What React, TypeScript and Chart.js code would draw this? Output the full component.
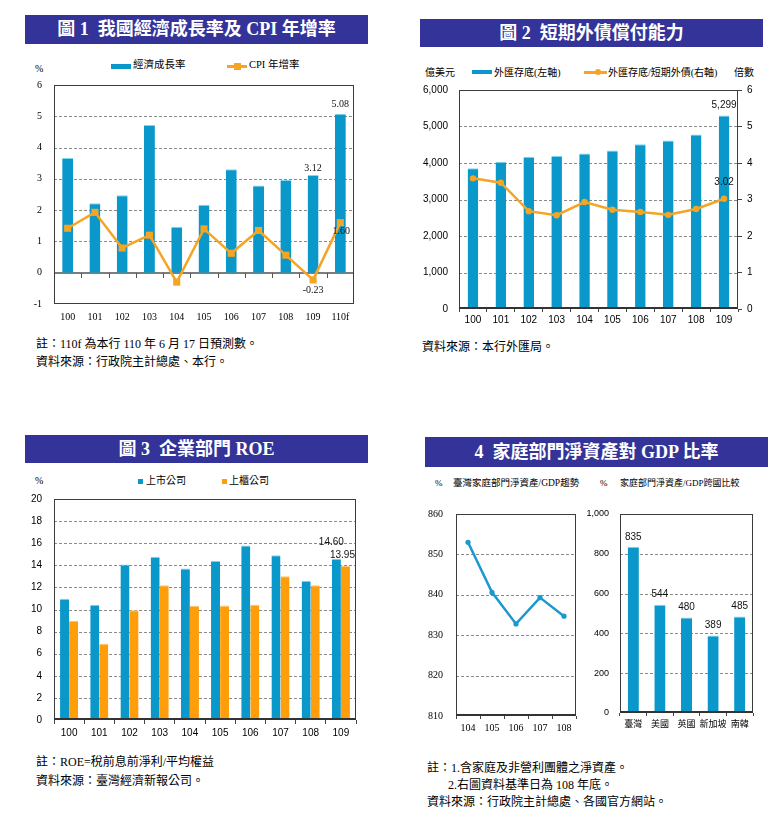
import React, { useEffect, useRef } from "react";
import { Chart, registerables } from "chart.js";

Chart.register(...registerables);

// ---------------- data ----------------
const gdpYears = ["100", "101", "102", "103", "104", "105", "106", "107", "108", "109", "110f"];
const gdpGrowth = [3.67, 2.22, 2.48, 4.72, 1.47, 2.17, 3.31, 2.79, 2.96, 3.12, 5.08];
const cpiGrowth = [1.42, 1.93, 0.79, 1.2, -0.3, 1.4, 0.62, 1.35, 0.56, -0.23, 1.6];

const fxYears = ["100", "101", "102", "103", "104", "105", "106", "107", "108", "109"];
const fxReserves = [3855, 4032, 4168, 4190, 4260, 4342, 4515, 4618, 4781, 5299];
const fxCoverage = [3.58, 3.46, 2.68, 2.57, 2.93, 2.72, 2.66, 2.58, 2.74, 3.02];

const roeYears = ["100", "101", "102", "103", "104", "105", "106", "107", "108", "109"];
const roeListed = [10.98, 10.42, 14.07, 14.78, 13.72, 14.38, 15.8, 14.92, 12.61, 14.6];
const roeOtc = [8.98, 6.9, 9.94, 12.2, 10.33, 10.36, 10.42, 13.01, 12.2, 13.95];

const hhYears = ["104", "105", "106", "107", "108"];
const hhNetWorthGdp = [853.0, 840.6, 832.8, 839.3, 834.7];

const hhCountries = ["臺灣", "美國", "英國", "新加坡", "南韓"];
const hhCountryRatio = [835, 544, 480, 389, 485];

// ---------------- styles ----------------
const BLUE = "#0A98CA";
const BLUE_EDGE = "#7AD8F4";
const ORANGE_LINE = "#F5A424";
const ORANGE_BAR = "#FF9D0A";
const LINE_BLUE = "#1B98CF";
const NAVY = "#333399";
const SERIF = '"Liberation Serif", "Noto Sans CJK TC", serif';
const SANS = '"Liberation Sans", "Noto Sans CJK TC", sans-serif';
const PADT = 12;
const NO_GRID = { display: false, drawTicks: false, drawOnChartArea: false };

type Lbl = { ds: number; i: number; text: string; dx?: number; dy?: number };
type FrameCfg = {
  zero?: boolean;
  bottomWidth?: number;
  labels?: Lbl[];
  labelFont?: string;
};

function makeFrame(cfg: FrameCfg) {
  return {
    id: "frame",
    beforeDatasetsDraw(chart: any) {
      const { ctx, chartArea: a } = chart;
      const y = chart.scales.y;
      ctx.save();
      ctx.strokeStyle = "#8a8a8a";
      ctx.lineWidth = 1;
      ctx.setLineDash([3, 2]);
      for (const t of y.ticks) {
        if (t.value <= y.min || t.value >= y.max) continue;
        if (cfg.zero && t.value === 0) continue;
        const py = Math.round(y.getPixelForValue(t.value)) + 0.5;
        ctx.beginPath();
        ctx.moveTo(a.left, py);
        ctx.lineTo(a.right, py);
        ctx.stroke();
      }
      ctx.setLineDash([]);
      if (cfg.zero) {
        const py = Math.round(y.getPixelForValue(0));
        ctx.strokeStyle = "#7d7d7d";
        ctx.lineWidth = 2;
        ctx.beginPath();
        ctx.moveTo(a.left, py);
        ctx.lineTo(a.right, py);
        ctx.stroke();
        const x = chart.scales.x;
        const n = chart.data.labels.length;
        ctx.lineWidth = 1;
        ctx.strokeStyle = "#555";
        for (let i = 1; i < n; i++) {
          const bx = Math.round((x.getPixelForValue(i - 1) + x.getPixelForValue(i)) / 2) + 0.5;
          ctx.beginPath();
          ctx.moveTo(bx, py);
          ctx.lineTo(bx, py + 5);
          ctx.stroke();
        }
      }
      ctx.restore();
    },
    afterDatasetsDraw(chart: any) {
      const { ctx, chartArea: a } = chart;
      ctx.save();
      ctx.strokeStyle = "#3c3c3c";
      ctx.lineWidth = 1;
      ctx.strokeRect(a.left + 0.5, a.top + 0.5, a.right - a.left - 1, a.bottom - a.top - 1);
      if (cfg.bottomWidth) {
        ctx.lineWidth = cfg.bottomWidth;
        ctx.strokeStyle = "#333";
        ctx.beginPath();
        ctx.moveTo(a.left, a.bottom - 1);
        ctx.lineTo(a.right, a.bottom - 1);
        ctx.stroke();
      }
      ctx.fillStyle = "#111";
      ctx.font = cfg.labelFont || `10px ${SANS}`;
      ctx.textAlign = "center";
      ctx.textBaseline = "middle";
      for (const l of cfg.labels || []) {
        const el = chart.getDatasetMeta(l.ds).data[l.i];
        if (!el) continue;
        ctx.fillText(l.text, el.x + (l.dx || 0), el.y + (l.dy || 0));
      }
      ctx.restore();
    },
  };
}

function geom(pl: number, pt: number, pr: number, pb: number, yW: number, rW: number, xH: number) {
  return { left: pl - yW, top: pt - PADT, width: pr - pl + yW + rW, height: pb - pt + PADT + xH };
}

// fix an axis' size and cancel its extra layout padding so the plot box lands exactly
function fixW(w: number) {
  return (s: any) => {
    s.width = w;
    s.paddingTop = 0;
    s.paddingBottom = 0;
  };
}
function fixH(h: number) {
  return (s: any) => {
    s.height = h;
    s.paddingLeft = 0;
    s.paddingRight = 0;
  };
}

const baseOpts = {
  responsive: false,
  animation: false as const,
  events: [] as any[],
  plugins: { legend: { display: false }, tooltip: { enabled: false } },
};

function ChartBox({ g, make }: { g: { left: number; top: number; width: number; height: number }; make: () => any }) {
  const ref = useRef<HTMLCanvasElement>(null);
  useEffect(() => {
    const chart = new Chart(ref.current as HTMLCanvasElement, make());
    return () => chart.destroy();
  }, []);
  return (
    <canvas
      ref={ref}
      width={g.width}
      height={g.height}
      style={{ position: "absolute", left: g.left, top: g.top, width: g.width, height: g.height, display: "block" }}
    />
  );
}

function T({ x, cy, size, text, family = SERIF, bold = false, color = "#000" }: any) {
  return (
    <div
      style={{
        position: "absolute",
        left: x,
        top: cy - size * 0.55,
        fontSize: size,
        lineHeight: `${size}px`,
        fontFamily: family,
        fontWeight: bold ? "bold" : "normal",
        whiteSpace: "pre",
        color,
      }}
    >
      {text}
    </div>
  );
}

function Banner({ left, top, width, height, text }: any) {
  return (
    <div
      style={{
        position: "absolute",
        left,
        top,
        width,
        height,
        background: NAVY,
        color: "#fff",
        fontFamily: SERIF,
        fontWeight: "bold",
        fontSize: 18,
        lineHeight: `${height}px`,
        textAlign: "center",
        whiteSpace: "pre",
      }}
    >
      {text}
    </div>
  );
}

function Box({ x, y, w, h, c }: any) {
  return <div style={{ position: "absolute", left: x, top: y, width: w, height: h, background: c }} />;
}

// ---------------- chart configs ----------------
const g1 = geom(54, 85, 354, 304, 36, 10, 26);
function chart1() {
  const f = { family: '"Liberation Serif"', size: 10 };
  return {
    type: "bar",
    data: {
      labels: gdpYears,
      datasets: [
        {
          type: "line",
          label: "CPI 年增率",
          data: cpiGrowth,
          borderColor: ORANGE_LINE,
          backgroundColor: ORANGE_LINE,
          pointBackgroundColor: ORANGE_LINE,
          borderWidth: 2.5,
          pointStyle: "rect",
          pointRadius: 5,
          pointBorderWidth: 0,
          order: 0,
        },
        {
          type: "bar",
          label: "經濟成長率",
          data: gdpGrowth,
          backgroundColor: BLUE,
          borderColor: BLUE_EDGE,
          borderWidth: { top: 1, right: 0, bottom: 0, left: 0 },
          barPercentage: 0.4,
          categoryPercentage: 1,
          order: 1,
        },
      ],
    },
    options: {
      ...baseOpts,
      layout: { padding: { top: PADT, right: 10, left: 0, bottom: 0 } },
      scales: {
        x: {
          grid: NO_GRID,
          border: { display: false },
          ticks: { font: f, color: "#000", padding: 7, maxRotation: 0, autoSkip: false },
          afterFit: fixH(26),
        },
        y: {
          min: -1,
          max: 6,
          ticks: { stepSize: 1, font: f, color: "#000", padding: 12 },
          grid: NO_GRID,
          border: { display: false },
          afterFit: fixW(36),
        },
      },
    },
    plugins: [
      makeFrame({
        zero: true,
        labelFont: `10px ${SERIF}`,
        labels: [
          { ds: 1, i: 10, text: gdpGrowth[10].toFixed(2), dy: -9 },
          { ds: 1, i: 9, text: gdpGrowth[9].toFixed(2), dy: -7 },
          { ds: 0, i: 9, text: cpiGrowth[9].toFixed(2), dy: 10 },
          { ds: 0, i: 10, text: cpiGrowth[10].toFixed(2), dx: 1, dy: 9 },
        ],
      }),
    ],
  };
}

const g2 = geom(459, 90, 738, 309, 49, 32, 21);
function chart2() {
  const f = { family: '"Liberation Sans"', size: 10 };
  return {
    type: "bar",
    data: {
      labels: fxYears,
      datasets: [
        {
          type: "line",
          label: "外匯存底/短期外債(右軸)",
          data: fxCoverage,
          yAxisID: "y1",
          borderColor: ORANGE_LINE,
          backgroundColor: ORANGE_LINE,
          pointBackgroundColor: ORANGE_LINE,
          borderWidth: 2.5,
          pointRadius: 3.2,
          pointBorderWidth: 0,
          order: 0,
        },
        {
          type: "bar",
          label: "外匯存底(左軸)",
          data: fxReserves,
          yAxisID: "y",
          backgroundColor: BLUE,
          borderColor: BLUE_EDGE,
          borderWidth: { top: 1, right: 0, bottom: 0, left: 0 },
          barPercentage: 0.38,
          categoryPercentage: 1,
          order: 1,
        },
      ],
    },
    options: {
      ...baseOpts,
      layout: { padding: { top: PADT, right: 0, left: 0, bottom: 0 } },
      scales: {
        x: {
          grid: { display: true, drawOnChartArea: false, drawTicks: true, tickLength: 3, offset: true, color: "#444" },
          border: { display: false },
          ticks: { font: f, color: "#000", padding: 2, maxRotation: 0, autoSkip: false },
          afterFit: fixH(21),
        },
        y: {
          min: 0,
          max: 6000,
          ticks: { stepSize: 1000, font: f, color: "#000", padding: 11, callback: (v: any) => Number(v).toLocaleString("en-US") },
          grid: NO_GRID,
          border: { display: false },
          afterFit: fixW(49),
        },
        y1: {
          position: "right",
          min: 0,
          max: 6,
          ticks: { stepSize: 1, font: f, color: "#000", padding: 5 },
          grid: { display: true, drawOnChartArea: false, drawTicks: true, tickLength: 4, color: "#444" },
          border: { display: false },
          afterFit: fixW(32),
        },
      },
    },
    plugins: [
      makeFrame({
        bottomWidth: 2,
        labelFont: `10px ${SANS}`,
        labels: [
          { ds: 1, i: 9, text: fxReserves[9].toLocaleString("en-US"), dy: -10 },
          { ds: 0, i: 9, text: fxCoverage[9].toFixed(2), dy: -17 },
        ],
      }),
    ],
  };
}

const g3 = geom(54, 499, 356, 720, 36, 10, 25);
function chart3() {
  const f = { family: '"Liberation Sans"', size: 10 };
  return {
    type: "bar",
    data: {
      labels: roeYears,
      datasets: [
        {
          label: "上市公司",
          data: roeListed,
          backgroundColor: BLUE,
          borderColor: BLUE_EDGE,
          borderWidth: { top: 1, right: 0, bottom: 0, left: 0 },
          barPercentage: 1,
          categoryPercentage: 0.6,
        },
        {
          label: "上櫃公司",
          data: roeOtc,
          backgroundColor: ORANGE_BAR,
          borderColor: "#FFC466",
          borderWidth: { top: 1, right: 0, bottom: 0, left: 0 },
          barPercentage: 1,
          categoryPercentage: 0.6,
        },
      ],
    },
    options: {
      ...baseOpts,
      layout: { padding: { top: PADT, right: 10, left: 0, bottom: 0 } },
      scales: {
        x: {
          grid: { display: true, drawOnChartArea: false, drawTicks: true, tickLength: 4, offset: true, color: "#444" },
          border: { display: false },
          ticks: { font: f, color: "#000", padding: 3, maxRotation: 0, autoSkip: false },
          afterFit: fixH(25),
        },
        y: {
          min: 0,
          max: 20,
          ticks: { stepSize: 2, font: f, color: "#000", padding: 12 },
          grid: NO_GRID,
          border: { display: false },
          afterFit: fixW(36),
        },
      },
    },
    plugins: [
      makeFrame({
        bottomWidth: 2,
        labelFont: `10px ${SANS}`,
        labels: [
          { ds: 0, i: 9, text: roeListed[9].toFixed(2), dx: -5, dy: -16 },
          { ds: 1, i: 9, text: roeOtc[9].toFixed(2), dx: -3, dy: -11 },
        ],
      }),
    ],
  };
}

const g4a = geom(456, 514, 578, 716, 36, 2, 22);
function chart4a() {
  const f = { family: '"Liberation Serif"', size: 10 };
  return {
    type: "line",
    data: {
      labels: hhYears,
      datasets: [
        {
          label: "臺灣家庭部門淨資產/GDP",
          data: hhNetWorthGdp,
          borderColor: LINE_BLUE,
          backgroundColor: LINE_BLUE,
          pointBackgroundColor: LINE_BLUE,
          borderWidth: 2.5,
          pointRadius: 2.6,
          pointBorderWidth: 0,
        },
      ],
    },
    options: {
      ...baseOpts,
      layout: { padding: { top: PADT, right: 2, left: 0, bottom: 0 } },
      scales: {
        x: {
          offset: true,
          grid: { display: true, drawOnChartArea: false, drawTicks: true, tickLength: 3, offset: true, color: "#444" },
          border: { display: false },
          ticks: { font: f, color: "#000", padding: 3, maxRotation: 0, autoSkip: false },
          afterFit: fixH(22),
        },
        y: {
          min: 810,
          max: 860,
          ticks: { stepSize: 10, font: f, color: "#000", padding: 13 },
          grid: NO_GRID,
          border: { display: false },
          afterFit: fixW(36),
        },
      },
    },
    plugins: [makeFrame({ bottomWidth: 2 })],
  };
}

const g4b = geom(620, 514, 753, 713, 40, 10, 22);
function chart4b() {
  const f = { family: '"Liberation Sans"', size: 9 };
  return {
    type: "bar",
    data: {
      labels: hhCountries,
      datasets: [
        {
          label: "家庭部門淨資產/GDP跨國比較",
          data: hhCountryRatio,
          backgroundColor: BLUE,
          borderColor: BLUE_EDGE,
          borderWidth: { top: 1, right: 0, bottom: 0, left: 0 },
          barPercentage: 0.42,
          categoryPercentage: 1,
        },
      ],
    },
    options: {
      ...baseOpts,
      layout: { padding: { top: PADT, right: 10, left: 0, bottom: 0 } },
      scales: {
        x: {
          grid: { display: true, drawOnChartArea: false, drawTicks: true, tickLength: 3, offset: true, color: "#444" },
          border: { display: false },
          ticks: { font: { family: '"Noto Sans CJK TC"', size: 9 }, color: "#000", padding: 2, maxRotation: 0, autoSkip: false },
          afterFit: fixH(22),
        },
        y: {
          min: 0,
          max: 1000,
          ticks: { stepSize: 200, font: f, color: "#000", padding: 11, callback: (v: any) => Number(v).toLocaleString("en-US") },
          grid: NO_GRID,
          border: { display: false },
          afterFit: fixW(40),
        },
      },
    },
    plugins: [
      makeFrame({
        bottomWidth: 2,
        labelFont: `10px ${SANS}`,
        labels: hhCountryRatio.map((v, i) => ({ ds: 0, i, text: String(v), dy: -10 })),
      }),
    ],
  };
}

export default function App() {
  return (
    <div style={{ position: "absolute", left: 0, top: 0, width: 780, height: 827, background: "#fff", overflow: "hidden" }}>
      {/* Figure 1 */}
      <Banner left={25} top={15} width={343} height={29} text="圖 1  我國經濟成長率及 CPI 年增率" />
      <T x={35} cy={69} size={10} text="%" />
      <Box x={111} y={64} w={20} h={5} c={BLUE} />
      <T x={133} cy={66} size={10.5} text="經濟成長率" />
      <Box x={227} y={65} w={20} h={2.5} c={ORANGE_LINE} />
      <Box x={234} y={63} w={7} h={7} c={ORANGE_LINE} />
      <T x={249} cy={66} size={10.5} text="CPI 年增率" />
      <ChartBox g={g1} make={chart1} />
      <T x={36} cy={345} size={12} text="註：110f 為本行 110 年 6 月 17 日預測數。" />
      <T x={36} cy={363} size={12} text="資料來源：行政院主計總處、本行。" />

      {/* Figure 2 */}
      <Banner left={420} top={19} width={343} height={28} text="圖 2  短期外債償付能力" />
      <T x={425} cy={73} size={10} text="億美元" />
      <Box x={472} y={70} w={20} h={4} c={BLUE} />
      <T x={494} cy={73} size={10} text="外匯存底(左軸)" />
      <Box x={584} y={71} w={23} h={2.5} c={ORANGE_LINE} />
      <div style={{ position: "absolute", left: 595, top: 69, width: 6, height: 6, borderRadius: 3, background: ORANGE_LINE }} />
      <T x={608} cy={73} size={10} text="外匯存底/短期外債(右軸)" />
      <T x={734} cy={73} size={10} text="倍數" />
      <ChartBox g={g2} make={chart2} />
      <T x={422} cy={348} size={12} text="資料來源：本行外匯局。" />

      {/* Figure 3 */}
      <Banner left={25} top={435} width={343} height={28} text="圖 3  企業部門 ROE" />
      <T x={35} cy={481} size={10} text="%" />
      <Box x={138} y={479} w={5} h={5} c={BLUE} />
      <T x={146} cy={481} size={10} text="上市公司" />
      <Box x={222} y={479} w={5} h={5} c={ORANGE_BAR} />
      <T x={229} cy={481} size={10} text="上櫃公司" />
      <ChartBox g={g3} make={chart3} />
      <T x={36} cy={763} size={12} text="註：ROE=稅前息前淨利/平均權益" />
      <T x={36} cy={782} size={12} text="資料來源：臺灣經濟新報公司。" />

      {/* Figure 4 */}
      <Banner left={425} top={437} width={343} height={30} text="4  家庭部門淨資產對 GDP 比率" />
      <T x={435} cy={484} size={9} text="%" />
      <T x={453} cy={484} size={9.5} text="臺灣家庭部門淨資產/GDP趨勢" />
      <T x={600} cy={484} size={9} text="%" />
      <T x={620} cy={484} size={9} text="家庭部門淨資產/GDP跨國比較" />
      <ChartBox g={g4a} make={chart4a} />
      <ChartBox g={g4b} make={chart4b} />
      <T x={427} cy={769} size={12} text="註：1.含家庭及非營利團體之淨資產。" />
      <T x={448} cy={786} size={12} text="2.右圖資料基準日為 108 年底。" />
      <T x={427} cy={803} size={12} text="資料來源：行政院主計總處、各國官方網站。" />
    </div>
  );
}
